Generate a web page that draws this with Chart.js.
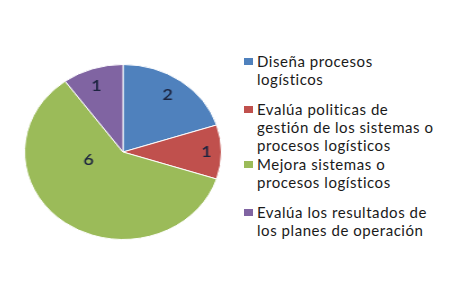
<!DOCTYPE html>
<html>
<head>
<meta charset="utf-8">
<script src="https://cdn.jsdelivr.net/npm/chart.js@4"></script>
<style>
  html, body { margin: 0; padding: 0; background: #fff; }
  #wrap { position: relative; width: 467px; height: 291px; overflow: hidden; }
  /* la torta original esta un poco estirada en horizontal */
  #pie-box { position: absolute; left: 24px; top: 64px; width: 176px; height: 176px;
             transform: scaleX(1.125); transform-origin: 0 0; }
  .leg { position: absolute; left: 244px; font-family: Lato, sans-serif; font-size: 15px;
         letter-spacing: 0.55px; line-height: 18px; color: #1a1a1a; white-space: nowrap; }
  .leg i { position: absolute; left: 0; top: 6px; width: 9px; height: 7px; }
  .leg span { display: block; margin-left: 13px; }
</style>
</head>
<body>
<div id="wrap">
  <div id="pie-box"><canvas id="pie" width="176" height="176"></canvas></div>
  <div id="legend"></div>
</div>
<script>
// Categorias (cada una partida en lineas como en la leyenda)
const categorias = [
  ['Diseña procesos', 'logísticos'],
  ['Evalúa politicas de', 'gestión de los sistemas o', 'procesos logísticos'],
  ['Mejora sistemas o', 'procesos logísticos'],
  ['Evalúa los resultados de', 'los planes de operación']
];
// Valores de cada porcion
const valores = [2, 1, 6, 1];
// Colores
const colores = ['#4F81BD', '#C0504D', '#9BBB59', '#8064A2'];

// Donde va cada etiqueta: fraccion del angulo de la porcion y del radio
const posAngulo = [0.5, 0.5, 0.68, 0.5];
const posRadio = [0.81, 0.87, 0.34, 0.8];
// Altura (top) de cada entrada de la leyenda
const topLeyenda = [52, 100, 155, 203];

// Plugin sencillo para poner el numero dentro de cada porcion
const etiquetas = {
  id: 'etiquetas',
  afterDatasetsDraw(chart) {
    const ctx = chart.ctx;
    const meta = chart.getDatasetMeta(0);
    ctx.save();
    ctx.font = '600 16px Lato, sans-serif';
    ctx.fillStyle = '#1c2440';
    ctx.textAlign = 'center';
    ctx.textBaseline = 'middle';
    meta.data.forEach((arc, i) => {
      const p = arc.getProps(['x', 'y', 'startAngle', 'endAngle', 'outerRadius'], true);
      const ang = p.startAngle + (p.endAngle - p.startAngle) * posAngulo[i];
      const r = p.outerRadius * posRadio[i];
      ctx.fillText(String(valores[i]), p.x + Math.cos(ang) * r - 2, p.y + Math.sin(ang) * r);
    });
    ctx.restore();
  }
};

const pieChart = new Chart(document.getElementById('pie'), {
  type: 'pie',
  data: {
    labels: categorias,
    datasets: [{
      data: valores,
      backgroundColor: colores,
      borderColor: '#ffffff',
      borderWidth: 1
    }]
  },
  options: {
    responsive: false,
    animation: false,
    layout: { padding: 0 },
    plugins: {
      legend: { display: false },
      tooltip: { enabled: false }
    }
  },
  plugins: [etiquetas]
});

// Leyenda en HTML, con los saltos de linea del original
const legend = document.getElementById('legend');
categorias.forEach((lineas, i) => {
  const item = document.createElement('div');
  item.className = 'leg';
  item.style.top = topLeyenda[i] + 'px';
  const cuadro = document.createElement('i');
  cuadro.style.background = colores[i];
  item.appendChild(cuadro);
  lineas.forEach(txt => {
    const s = document.createElement('span');
    s.textContent = txt;
    item.appendChild(s);
  });
  legend.appendChild(item);
});
</script>
</body>
</html>
